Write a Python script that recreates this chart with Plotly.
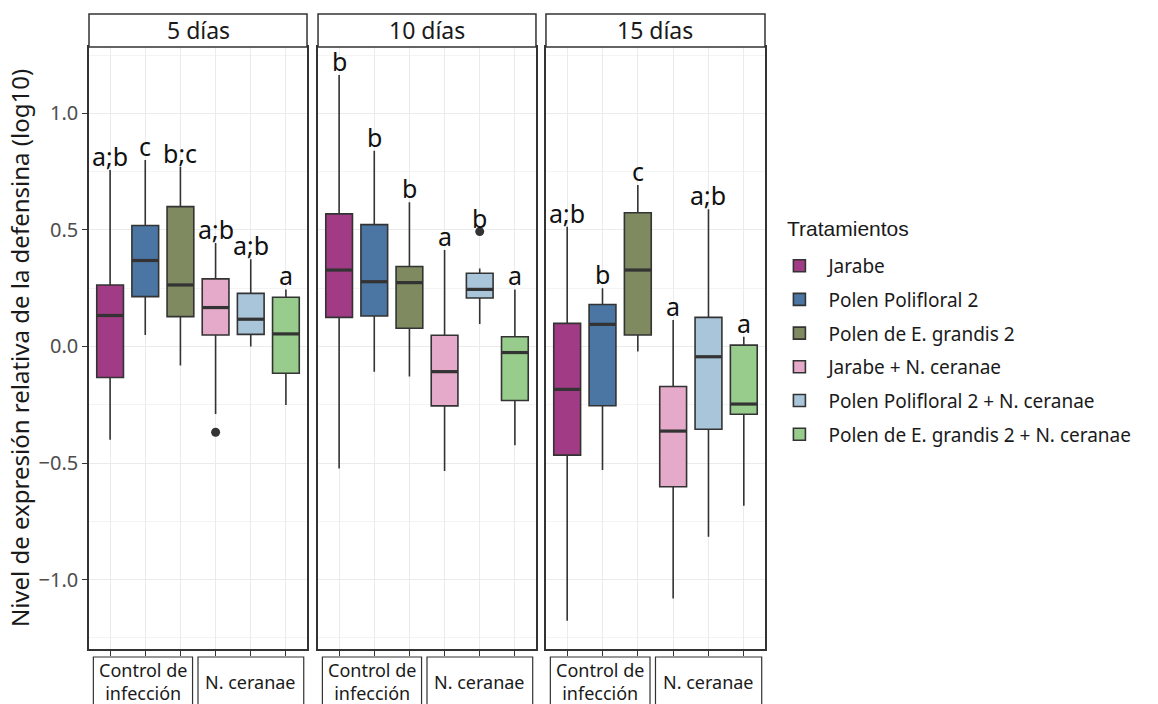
import plotly.graph_objects as go

# ---------------- data ----------------
treatments = ["Jarabe", "Polen Polifloral 2", "Polen de E. grandis 2",
              "Jarabe + N. ceranae", "Polen Polifloral 2 + N. ceranae",
              "Polen de E. grandis 2 + N. ceranae"]
days = ["5 días", "10 días", "15 días"]
groups = ["Control de<br>infección", "N. ceranae"]
colors = ["#a23b86", "#4b76a3", "#7f8a60", "#e5a9c9", "#a9c5da", "#98cc8d"]

# 5 días
lower_5 = [-0.400, 0.049, -0.082, -0.290, 0.000, -0.251]
q1_5 = [-0.133, 0.214, 0.128, 0.049, 0.052, -0.115]
median_5 = [0.133, 0.369, 0.264, 0.167, 0.117, 0.054]
q3_5 = [0.264, 0.519, 0.600, 0.290, 0.228, 0.211]
upper_5 = [0.757, 0.800, 0.770, 0.444, 0.374, 0.245]
outliers_5 = [[], [], [], [-0.368], [], []]
letters_5 = ["a;b", "c", "b;c", "a;b", "a;b", "a"]

# 10 días
lower_10 = [-0.523, -0.108, -0.129, -0.534, 0.097, -0.424]
q1_10 = [0.125, 0.131, 0.078, -0.255, 0.208, -0.232]
median_10 = [0.328, 0.278, 0.274, -0.108, 0.245, -0.026]
q3_10 = [0.569, 0.523, 0.343, 0.048, 0.314, 0.042]
upper_10 = [1.165, 0.840, 0.619, 0.414, 0.335, 0.245]
outliers_10 = [[], [], [], [], [0.493], []]
letters_10 = ["b", "b", "b", "a", "b", "a"]

# 15 días
lower_15 = [-1.177, -0.530, -0.022, -1.081, -0.816, -0.683]
q1_15 = [-0.466, -0.254, 0.049, -0.602, -0.355, -0.291]
median_15 = [-0.184, 0.095, 0.328, -0.363, -0.044, -0.247]
q3_15 = [0.099, 0.180, 0.574, -0.172, 0.125, 0.006]
upper_15 = [0.514, 0.250, 0.693, 0.114, 0.589, 0.042]
outliers_15 = [[], [], [], [], [], []]
letters_15 = ["a;b", "b", "c", "a", "a;b", "a"]

y_ticks = [-1.0, -0.5, 0.0, 0.5, 1.0]

panels = [
    (lower_5, q1_5, median_5, q3_5, upper_5, outliers_5, letters_5),
    (lower_10, q1_10, median_10, q3_10, upper_10, outliers_10, letters_10),
    (lower_15, q1_15, median_15, q3_15, upper_15, outliers_15, letters_15),
]

# ---------------- styling ----------------
FONT = "Noto Sans"
DARK = "#333333"
BOX_W = 0.76
domains = [[0.0, 0.3225], [0.3388, 0.6612], [0.676, 1.0]]
group_boxes = [[0.02, 0.475], [0.50, 0.985]]

fig = go.Figure()
annotations = []
shapes = []

for p, (lo, q1, med, q3, up, outl, lets) in enumerate(panels):
    xa = "x" if p == 0 else f"x{p+1}"
    ya = "y" if p == 0 else f"y{p+1}"
    for i, name in enumerate(treatments):
        fig.add_trace(go.Box(
            x=[i], q1=[q1[i]], median=[med[i]], q3=[q3[i]],
            lowerfence=[lo[i]], upperfence=[up[i]],
            name=name, legendgroup=name, showlegend=(p == 0),
            fillcolor=colors[i], line=dict(color=DARK, width=1.6),
            whiskerwidth=0, width=BOX_W, boxpoints=False,
            xaxis=xa, yaxis=ya, hoverinfo="skip",
        ))
        # thick median line
        fig.add_trace(go.Scatter(
            x=[i - BOX_W / 2, i + BOX_W / 2], y=[med[i], med[i]],
            mode="lines", line=dict(color=DARK, width=3.2),
            showlegend=False, xaxis=xa, yaxis=ya, hoverinfo="skip",
        ))
        if outl[i]:
            fig.add_trace(go.Scatter(
                x=[i] * len(outl[i]), y=outl[i], mode="markers",
                marker=dict(color=DARK, size=9),
                showlegend=False, xaxis=xa, yaxis=ya, hoverinfo="skip",
            ))
        top = max([up[i]] + outl[i])
        annotations.append(dict(
            x=i, y=top, xref=xa, yref=ya, text=lets[i], showarrow=False,
            xanchor="center", yanchor="bottom", yshift=-5,
            font=dict(family=FONT, size=25, color="#111111"),
        ))
    # strip on top
    shapes.append(dict(type="rect", xref=f"{xa} domain", yref="paper",
                       x0=0, x1=1, y0=1.0, y1=1.055,
                       fillcolor="white", line=dict(color=DARK, width=1.5),
                       layer="above"))
    annotations.append(dict(x=0.5, y=1.0275, xref=f"{xa} domain", yref="paper",
                            text=days[p], showarrow=False,
                            xanchor="center", yanchor="middle",
                            font=dict(family=FONT, size=23, color="#1a1a1a")))
    # group label boxes below
    for g, (gx0, gx1) in enumerate(group_boxes):
        shapes.append(dict(type="rect", xref=f"{xa} domain", yref="paper",
                           x0=gx0, x1=gx1, y0=-0.0133, y1=-0.2,
                           fillcolor="white", line=dict(color=DARK, width=1.2),
                           layer="above"))
        annotations.append(dict(x=(gx0 + gx1) / 2, y=-0.0548,
                                xref=f"{xa} domain", yref="paper",
                                text=groups[g], showarrow=False,
                                xanchor="center", yanchor="middle",
                                font=dict(family=FONT, size=18,
                                          color="#1a1a1a")))

# legend title as text
annotations.append(dict(x=1.0296, y=0.699, xref="paper", yref="paper",
                        text="Tratamientos", showarrow=False,
                        xanchor="left", yanchor="middle",
                        font=dict(family="Liberation Sans", size=21,
                                  color="#1a1a1a")))

axis_common = dict(showline=True, mirror=True, linecolor=DARK, linewidth=1.6,
                   showgrid=True, gridcolor="#ebebeb", gridwidth=1.2,
                   zeroline=False)

layout = dict(
    width=1158, height=704,
    margin=dict(l=89, r=393, t=47, b=55),
    paper_bgcolor="white", plot_bgcolor="white",
    font=dict(family=FONT, color="#1a1a1a"),
    showlegend=True,
    legend=dict(
        x=1.008, y=0.668, xanchor="left", yanchor="top",
        font=dict(family=FONT, size=19, color="#1a1a1a"),
        tracegroupgap=6, itemwidth=48, bgcolor="rgba(0,0,0,0)",
    ),
    annotations=annotations,
    shapes=shapes,
)

for p in range(3):
    xk = "xaxis" if p == 0 else f"xaxis{p+1}"
    yk = "yaxis" if p == 0 else f"yaxis{p+1}"
    xa = "x" if p == 0 else f"x{p+1}"
    ya = "y" if p == 0 else f"y{p+1}"
    layout[xk] = dict(axis_common, domain=domains[p], anchor=ya,
                      range=[-0.6, 5.6], tickvals=list(range(6)),
                      showticklabels=False, ticks="outside", ticklen=5,
                      tickcolor=DARK, tickwidth=1.3)
    ydict = dict(axis_common, domain=[0, 1], anchor=xa,
                 range=[-1.298, 1.285], tickvals=y_ticks,
                 tickformat=".1f",
                 minor=dict(dtick=0.25, tick0=0, showgrid=True,
                            gridcolor="#f4f4f4", gridwidth=0.8, ticks=""))
    if p == 0:
        ydict.update(ticks="outside", ticklen=5, tickcolor=DARK, tickwidth=1.3,
                     tickfont=dict(family=FONT, size=20, color="#4d4d4d"),
                     title=dict(text="Nivel de expresión relativa de la defensina (log10)",
                                font=dict(family=FONT, size=24, color="#1a1a1a"),
                                standoff=2))
    else:
        ydict.update(matches="y", showticklabels=False, ticks="")
    layout[yk] = ydict

fig.update_layout(**layout)
fig.write_html("out.html")
